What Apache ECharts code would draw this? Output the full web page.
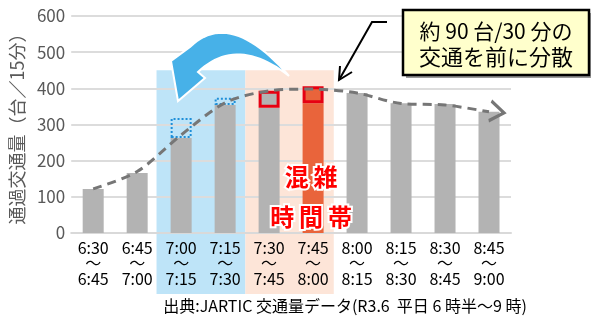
<!DOCTYPE html>
<html lang="ja">
<head>
<meta charset="utf-8">
<title>通過交通量</title>
<script src="https://cdn.jsdelivr.net/npm/echarts@6/dist/echarts.min.js"></script>
<style>
    html, body { margin: 0; padding: 0; background: #fff; }
    #chart { width: 591px; height: 316px; }
</style>
</head>
<body>
<div id="chart"></div>
<script>
    // 15-minute slots
    var startTimes = ['6:30', '6:45', '7:00', '7:15', '7:30', '7:45', '8:00', '8:15', '8:30', '8:45'];
    var endTimes = ['6:45', '7:00', '7:15', '7:30', '7:45', '8:00', '8:15', '8:30', '8:45', '9:00'];
    // traffic volume (veh / 15 min), split into the part that stays and the part that is shifted
    var baseVolume = [122, 166, 263, 354, 346, 359, 387, 359, 357, 335];
    var shiftVolume = [null, null, 55, 20, 47, 47, null, null, null, null];
    var trendVolume = [122, 170, 271, 360, 393, 398, 387, 358, 354, 335];
    var yTicks = [0, 100, 200, 300, 400, 500, 600];
    var movedTo = ['7:00', '7:15'];
    var movedFrom = ['7:30', '7:45'];
    var peakSlot = '7:45';

    var GRAY = '#b3b3b3';
    var ORANGE = '#e9643b';
    var RED = '#e60012';
    var FONT = "'Noto Sans CJK JP', 'Noto Sans', sans-serif";

    var chart = echarts.init(document.getElementById('chart'));

    var baseData = baseVolume.map(function (v, i) {
        return { value: v, itemStyle: { color: startTimes[i] === peakSlot ? ORANGE : GRAY } };
    });
    var shiftData = shiftVolume.map(function (v, i) {
        var t = startTimes[i];
        if (movedTo.indexOf(t) >= 0) {
            return { value: v, itemStyle: { color: 'rgba(0,0,0,0)', borderColor: '#1f8fd8', borderWidth: 2, borderType: [2, 2] } };
        }
        if (movedFrom.indexOf(t) >= 0) {
            return { value: v, itemStyle: { color: t === peakSlot ? ORANGE : GRAY, borderColor: RED, borderWidth: 3 } };
        }
        return { value: v };
    });
    var trendData = trendVolume.map(function (v, i) {
        if (i === trendVolume.length - 1) {
            return {
                value: v,
                symbol: 'path://M0,0L10,7L0,14',
                symbolSize: [14, 20],
                symbolOffset: [8, 0],
                symbolRotate: -8,
                itemStyle: { color: 'rgba(0,0,0,0)', borderColor: '#767676', borderWidth: 3 }
            };
        }
        return v;
    });

    var option = {
        animation: false,
        textStyle: { fontFamily: FONT },
        grid: { left: 67, right: 80, top: 16, bottom: 83 },
        xAxis: {
            type: 'category',
            data: startTimes,
            axisTick: { show: false },
            axisLine: { lineStyle: { color: '#d9d9d9', width: 2 } },
            axisLabel: {
                interval: 0,
                color: '#000',
                fontSize: 16,
                lineHeight: 15.5,
                margin: 7,
                fontFamily: FONT,
                formatter: function (v, i) { return v + '\n～\n' + endTimes[i]; }
            }
        },
        yAxis: {
            type: 'value',
            min: yTicks[0],
            max: yTicks[yTicks.length - 1],
            interval: yTicks[1] - yTicks[0],
            name: '通過交通量（台／15分）',
            nameLocation: 'middle',
            nameRotate: 90,
            nameGap: 34,
            nameTextStyle: { color: '#595959', fontSize: 18, fontFamily: FONT },
            axisLabel: { color: '#595959', fontSize: 17, margin: 6, fontFamily: "'Liberation Sans Narrow', 'Noto Sans CJK JP', sans-serif" },
            splitLine: { lineStyle: { color: '#dcdcdc', width: 2 } }
        },
        series: [
            { type: 'bar', stack: 'v', barWidth: 21, data: baseData },
            { type: 'bar', stack: 'v', barWidth: 21, data: shiftData },
            {
                type: 'line',
                z: 5,
                smooth: 0.3,
                symbol: 'none',
                showSymbol: true,
                lineStyle: { color: '#767676', width: 3, type: [9, 6] },
                data: trendData
            }
        ]
    };
    chart.setOption(option);

    // annotation layer, placed from the axes
    function catX(i) { return chart.convertToPixel({ xAxisIndex: 0 }, i); }
    function valY(v) { return chart.convertToPixel({ yAxisIndex: 0 }, v); }
    var w = catX(1) - catX(0);
    var bandTop = valY(450);
    var bandBottom = valY(0) + 61;
    var blueL = catX(2) - 0.56 * w, blueR = catX(3) + 0.46 * w;
    var peachR = catX(5) + 0.47 * w;
    var labelX = catX(5) - 2;

    // quadratic curve sampled into points
    function quad(p0, c, p1, n) {
        var pts = [];
        for (var k = 0; k <= n; k++) {
            var t = k / n, u = 1 - t;
            pts.push([u * u * p0[0] + 2 * u * t * c[0] + t * t * p1[0], u * u * p0[1] + 2 * u * t * c[1] + t * t * p1[1]]);
        }
        return pts;
    }
    var arrowPts = quad([289, 76], [230, 8], [190, 47], 24)
        .concat([[171, 61], [178, 101], [205, 78]])
        .concat(quad([198, 72], [237, 35], [289, 76], 24));

    chart.setOption({
        graphic: [
            { type: 'rect', z: -10, shape: { x: blueL, y: bandTop, width: blueR - blueL, height: bandBottom - bandTop }, style: { fill: '#bee4f8' } },
            { type: 'rect', z: -10, shape: { x: blueR, y: bandTop, width: peachR - blueR, height: bandBottom - bandTop }, style: { fill: '#fde5d8' } },
            {
                type: 'polygon', z: 20,
                shape: { points: arrowPts },
                style: { fill: '#47b1e8', stroke: '#fff', lineWidth: 2 }
            },
            {
                type: 'text', z: 20, x: labelX, y: valY(155),
                style: { text: '混\u2009雑', fill: '#ff0000', font: 'bold 24px ' + FONT, align: 'center', verticalAlign: 'middle', stroke: '#fff', lineWidth: 4 }
            },
            {
                type: 'text', z: 20, x: labelX, y: valY(44),
                style: { text: '時\u2009間\u2009帯', fill: '#ff0000', font: 'bold 24px ' + FONT, align: 'center', verticalAlign: 'middle', stroke: '#fff', lineWidth: 4 }
            },
            {
                type: 'polyline', z: 20,
                shape: { points: [[387, 22], [372, 22], [339, 80]] },
                style: { stroke: '#000', lineWidth: 2, fill: null }
            },
            {
                type: 'polyline', z: 20,
                shape: { points: [[340, 66], [339, 80], [352, 72]] },
                style: { stroke: '#000', lineWidth: 2, fill: null }
            },
            { type: 'rect', z: 20, shape: { x: 406, y: 13, width: 186, height: 65 }, style: { fill: '#9a9a9a' } },
            { type: 'rect', z: 21, shape: { x: 403, y: 10, width: 186, height: 65 }, style: { fill: '#ffffcc', stroke: '#000', lineWidth: 2.5 } },
            {
                type: 'text', z: 22, x: 496, y: 31,
                style: { text: '約 90 台/30 分の', fill: '#000', font: '21px ' + FONT, align: 'center', verticalAlign: 'middle' }
            },
            {
                type: 'text', z: 22, x: 496, y: 57,
                style: { text: '交通を前に分散', fill: '#000', font: '22px ' + FONT, align: 'center', verticalAlign: 'middle' }
            },
            {
                type: 'text', z: 22, x: 345, y: 306,
                style: { text: '出典:JARTIC 交通量データ(R3.6  平日 6 時半～9 時)', fill: '#000', font: '16px ' + FONT, align: 'center', verticalAlign: 'middle' }
            }
        ]
    });
</script>
</body>
</html>
